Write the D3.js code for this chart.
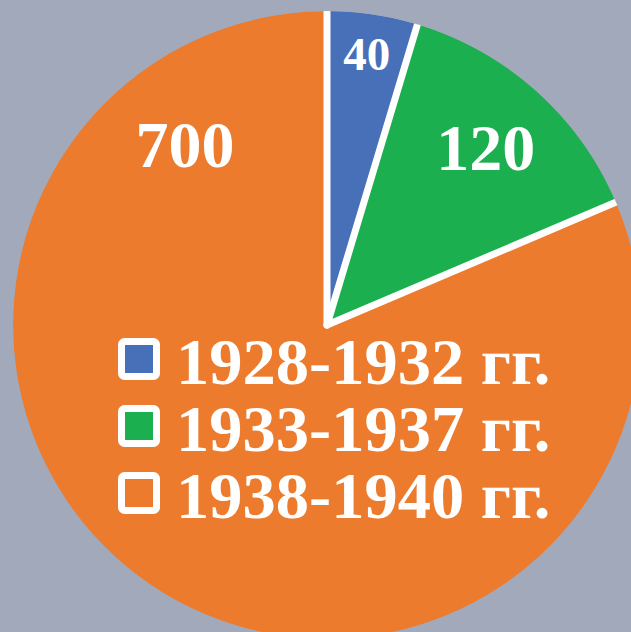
<!DOCTYPE html>
<html>
<head>
<meta charset="utf-8">
<script src="https://cdn.jsdelivr.net/npm/d3@7"></script>
<style>
  body { margin: 0; background: #a2a9bb; }
  svg { display: block; }
  text { font-family: "Liberation Serif", "Times New Roman", serif; font-weight: bold; }
</style>
</head>
<body>
<div id="chart"></div>
<script>
const periods = ["1928-1932 гг.", "1933-1937 гг.", "1938-1940 гг."];
const values = [40, 120, 700];
const colors = ["#4770b9", "#1caf4f", "#ec7b2e"];

const width = 631, height = 632;
const cx = 327, cy = 325, radius = 314;

let svg = d3.select("#chart")
  .append("svg")
  .attr("width", width)
  .attr("height", height);

svg.append("rect")
  .attr("width", width)
  .attr("height", height)
  .attr("fill", "#a2a9bb");

svg.append("clipPath").attr("id", "pieclip")
  .append("circle").attr("cx", cx).attr("cy", cy).attr("r", radius);

let g = svg.append("g")
  .attr("clip-path", "url(#pieclip)")
  .append("g")
  .attr("transform", "translate(" + cx + "," + cy + ")");

// pie layout, clockwise from 12 o'clock
let pie = d3.pie().sort(null).value(d => d);
let arcs = pie(values);

let arc = d3.arc().innerRadius(0).outerRadius(radius);

g.selectAll("path.slice")
  .data(arcs)
  .enter().append("path")
  .attr("class", "slice")
  .attr("d", arc)
  .attr("fill", (d, i) => colors[i]);

// white separators only along the radii
g.selectAll("line.sep")
  .data(arcs)
  .enter().append("line")
  .attr("class", "sep")
  .attr("x1", 0)
  .attr("y1", 0)
  .attr("x2", d => radius * 1.05 * Math.sin(d.startAngle))
  .attr("y2", d => -radius * 1.05 * Math.cos(d.startAngle))
  .attr("stroke", "white")
  .attr("stroke-width", 7)
  .attr("stroke-linecap", "round");

// value labels
let labelArcBlue = d3.arc().innerRadius(273).outerRadius(273);
let labelArcGreen = d3.arc().innerRadius(238).outerRadius(238);
let pBlue = labelArcBlue.centroid(arcs[0]);
let pGreen = labelArcGreen.centroid(arcs[1]);

svg.append("text")
  .attr("x", cx + pBlue[0])
  .attr("y", cy + pBlue[1] + 15)
  .attr("text-anchor", "middle")
  .style("font-size", "47px").attr("fill", "white")
  .text(values[0]);

svg.append("text")
  .attr("x", cx + pGreen[0])
  .attr("y", cy + pGreen[1] + 22)
  .attr("text-anchor", "middle")
  .style("font-size", "66px").attr("fill", "white")
  .text(values[1]);

svg.append("text")
  .attr("x", 185)
  .attr("y", 167)
  .attr("text-anchor", "middle")
  .style("font-size", "66px").attr("fill", "white")
  .text(values[2]);

// legend
let legend = svg.append("g").attr("transform", "translate(118,338)");
let rows = legend.selectAll("g.row")
  .data(periods)
  .enter().append("g")
  .attr("class", "row")
  .attr("transform", (d, i) => "translate(0," + (i * 67) + ")");

rows.append("rect")
  .attr("x", 3.5).attr("y", 3.5)
  .attr("width", 35).attr("height", 35)
  .attr("rx", 3)
  .attr("fill", (d, i) => colors[i])
  .attr("stroke", "white")
  .attr("stroke-width", 7);

rows.append("text")
  .attr("x", 58)
  .attr("y", 46)
  .style("font-size", "66.5px").attr("fill", "white")
  .text(d => d);
</script>
</body>
</html>
